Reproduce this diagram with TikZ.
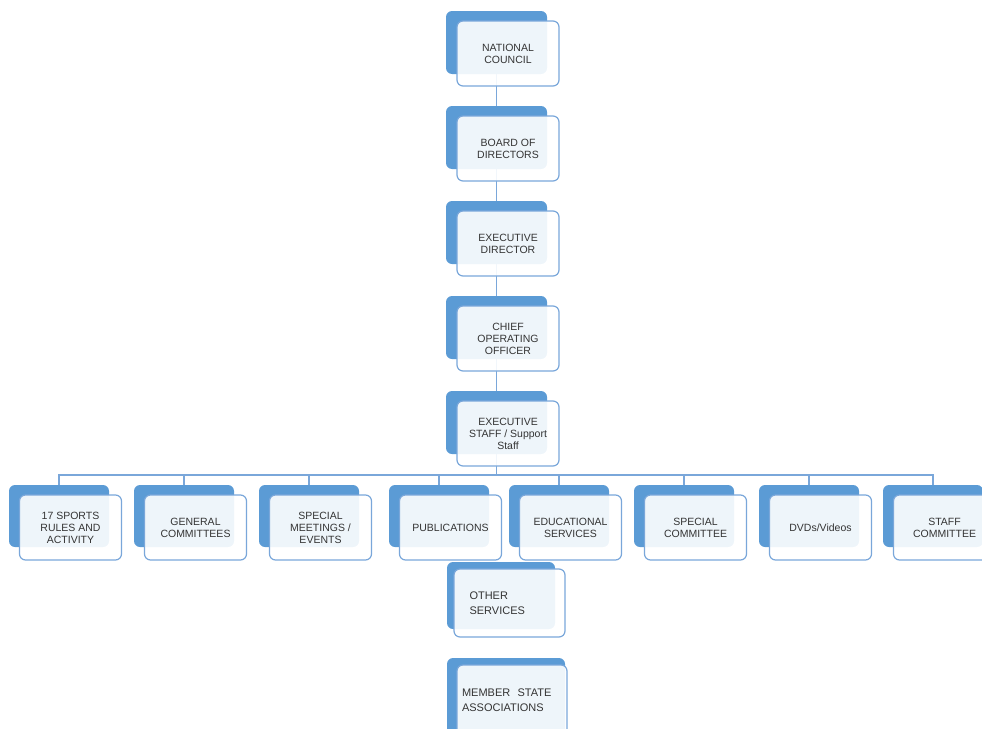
\documentclass[tikz,border=0pt]{standalone}
\usepackage{fontspec}
\setmainfont{Liberation Sans}
\usepackage{tikz}
\usetikzlibrary{positioning}

\definecolor{boxblue}{RGB}{91,155,213}
\definecolor{lineblue}{RGB}{122,167,218}
\definecolor{txtgray}{RGB}{52,52,52}

\begin{document}
\begin{tikzpicture}[x=1pt,y=-1pt,
	backbox/.style={fill=boxblue,rounded corners=6pt,minimum width=100pt,minimum height=62pt,inner sep=0pt},
	frontbox/.style={draw=lineblue,line width=1.2pt,fill=white,fill opacity=0.9,text opacity=1,rounded corners=6pt,minimum width=102pt,minimum height=65pt,inner sep=2pt,align=center,text=txtgray,font=\fontsize{10.5}{12}\selectfont},
	link/.style={draw=lineblue,line width=1.3pt}]
	\useasboundingbox (0,0) rectangle (982,728);
	% back shapes of the chain
	\node[backbox,minimum width=101pt,minimum height=63pt] (ncback) at (496.5,42.5) {};
	\node[backbox,minimum width=101pt,minimum height=63pt] (bdback) at (496.5,137.5) {};
	\node[backbox,minimum width=101pt,minimum height=63pt] (edback) at (496.5,232.5) {};
	\node[backbox,minimum width=101pt,minimum height=63pt] (coback) at (496.5,327.5) {};
	\node[backbox,minimum width=101pt,minimum height=63pt] (esback) at (496.5,422.5) {};
	% back shapes of the row
	\node[backbox] (spback) at (59,516) {};
	\node[backbox] (gcback) at (184,516) {};
	\node[backbox] (smback) at (309,516) {};
	\node[backbox] (puback) at (439,516) {};
	\node[backbox] (edsback) at (559,516) {};
	\node[backbox] (scback) at (684,516) {};
	\node[backbox] (dvback) at (809,516) {};
	\node[backbox] (stback) at (933,516) {};
	% loose ones
	\node[backbox,minimum width=108pt,minimum height=67pt] (osback) at (501,595.5) {};
	\node[backbox,minimum width=118pt,minimum height=84pt] (msback) at (506,700) {};
	%
	\draw[link] (ncback.south)--(bdback.north);
	\draw[link] (bdback.south)--(edback.north);
	\draw[link] (edback.south)--(coback.north);
	\draw[link] (coback.south)--(esback.north);
	\coordinate (bus) at (496.5,475);
	\draw[link] (esback.south)--(bus);
	\draw[link] (bus)-|(spback.north);
	\draw[link] (bus)-|(gcback.north);
	\draw[link] (bus)-|(smback.north);
	\draw[link] (bus)-|(puback.north);
	\draw[link] (bus)-|(edsback.north);
	\draw[link] (bus)-|(scback.north);
	\draw[link] (bus)-|(dvback.north);
	\draw[link] (bus)-|(stback.north);
	%
	\node[frontbox] (nc) at (508,53.5) {NATIONAL\\COUNCIL};
	\node[frontbox] (bd) at (508,148.5) {BOARD OF\\DIRECTORS};
	\node[frontbox] (ed) at (508,243.5) {EXECUTIVE\\DIRECTOR};
	\node[frontbox] (co) at (508,338.5) {CHIEF\\OPERATING\\OFFICER};
	\node[frontbox] (es) at (508,433.5) {EXECUTIVE\\STAFF / Support\\Staff};
	%
	\node[frontbox] (sp) at (70.5,527.5) {17 SPORTS\\RULES AND\\ACTIVITY};
	\node[frontbox] (gc) at (195.5,527.5) {GENERAL\\COMMITTEES};
	\node[frontbox] (sm) at (320.5,527.5) {SPECIAL\\MEETINGS /\\EVENTS};
	\node[frontbox] (pu) at (450.5,527.5) {PUBLICATIONS};
	\node[frontbox] (eds) at (570.5,527.5) {EDUCATIONAL\\SERVICES};
	\node[frontbox] (sc) at (695.5,527.5) {SPECIAL\\COMMITTEE};
	\node[frontbox] (dv) at (820.5,527.5) {DVDs/Videos};
	\node[frontbox] (st) at (944.5,527.5) {STAFF\\COMMITTEE};
	%
	\node[frontbox,minimum width=111pt,minimum height=68pt,text width=80pt,inner xsep=15.5pt,align=left,font=\fontsize{11}{14.5}\selectfont] (os) at (509.5,603) {OTHER\\SERVICES};
	\node[frontbox,minimum width=110pt,minimum height=70pt,text width=100pt,inner xsep=5pt,align=left,font=\fontsize{11}{14.5}\selectfont] (ms) at (512,700) {MEMBER\ \ STATE\\ASSOCIATIONS\\[14pt]};
\end{tikzpicture}
\end{document}
